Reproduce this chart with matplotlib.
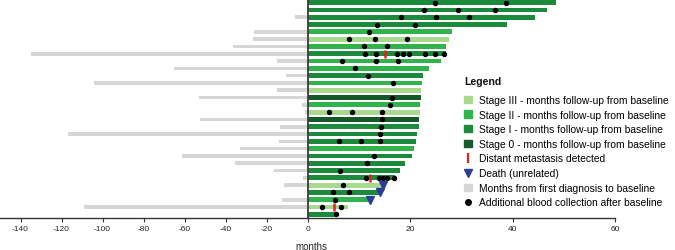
import matplotlib
matplotlib.use('Agg')
import matplotlib.pyplot as plt
import numpy as np
from matplotlib.patches import Patch
from matplotlib.lines import Line2D

plt.rcParams['font.family'] = ['Liberation Sans', 'DejaVu Sans']
plt.rcParams['axes.unicode_minus'] = False

# one entry per patient, top to bottom
stage = ['I', 'I', 'I', 'I', 'II', 'III', 'II', 'I', 'II', 'II',
         'I', 'II', 'III', '0', 'II', 'III', '0', 'I', 'I', 'I',
         'II', 'I', 'I', 'I', 'I', 'III', 'I', 'II', 'III', 'I']
followup = [48.5, 46.7, 44.4, 38.9, 28.2, 27.6, 27.1, 27.0, 26.0, 23.7,
            22.5, 22.3, 22.2, 22.1, 22.0, 22.0, 21.7, 21.7, 21.3, 21.1,
            20.7, 20.4, 19.1, 18.0, 17.1, 14.8, 14.2, 12.0, 7.9, 5.5]
prior = [0, 0, -6, 0, -26.2, -26.8, -36.4, -135, -15, -65,
         -10.6, -104, -14.8, -52.8, -2.5, -1, -52.5, -13.3, -117, -13.7,
         -32.7, -61.1, -35.6, -16.1, -2, -11.4, 0, -12.5, -109, 0]
blood = [[24.8, 38.7], [22.8, 29.3, 36.5], [18.3, 25.0, 31.6], [13.6, 21.0],
         [12.0], [8.1, 13.1, 19.5], [11.1, 15.5],
         [11.2, 13.4, 17.4, 18.7, 19.8, 22.9, 24.8, 26.7],
         [6.8, 13.3, 17.6], [9.3], [11.8], [16.7], [], [16.4], [16.1],
         [4.1, 8.7, 14.6], [14.5], [14.3], [14.1], [6.2, 10.4, 14.1], [],
         [13.0], [11.6], [6.3], [11.5, 14.0, 14.8, 15.5, 16.8], [6.9],
         [5.0, 8.1], [5.4], [2.8, 6.5], [5.5]]
metastasis_row = [7, 24, 28]
metastasis_month = [15.2, 12.2, 5.1]
death_row = [25, 26, 27]
death_month = [14.8, 14.2, 12.2]

stage_colors = {'III': '#a9d98f', 'II': '#2fb34a', 'I': '#1b8a3a', '0': '#15592a'}
gray = '#d6d6d6'
blue = '#2b3d97'


def fwd(x):
    x = np.asarray(x, dtype=float)
    return np.where(x < 0, x * 0.4, x)


def inv(y):
    y = np.asarray(y, dtype=float)
    return np.where(y < 0, y / 0.4, y)


fig = plt.figure(figsize=(6.75, 2.51), dpi=100)
ax = fig.add_axes([0, 0.1275, 615 / 675, 0.8725])
ax.set_xscale('function', functions=(fwd, inv))

rows = np.arange(len(stage))
ax.barh(rows, prior, height=0.5, color=gray, zorder=1)
ax.barh(rows, followup, height=0.65, color=[stage_colors[s] for s in stage], zorder=2)
ax.axvline(0, color='#3a3a3a', lw=1.3, zorder=3)

for r, pts in zip(rows, blood):
    if pts:
        ax.plot(pts, [r] * len(pts), 'o', color='black', ms=2.9, zorder=4)
ax.plot(metastasis_month, metastasis_row, '|', color='#e8201c', ms=6, mew=1.8, zorder=5)
ax.plot(death_month, death_row, 'v', color=blue, ms=6, zorder=5)

ax.set_xlim(-150, 60)
ax.set_ylim(len(stage) - 0.5, -0.5)
ax.set_xticks(range(-140, 61, 20))
ax.set_xticklabels([str(t) for t in range(-140, 61, 20)], fontsize=6, color='#222222')
ax.tick_params(axis='x', length=3, width=0.8, pad=2, color='#333333')
ax.set_yticks([])
for s in ['top', 'right', 'left']:
    ax.spines[s].set_visible(False)
ax.spines['bottom'].set_color('#333333')
ax.spines['bottom'].set_linewidth(1.0)

fig.text(311 / 675, 1 - 247 / 251, 'months', fontsize=7, ha='center', va='center',
         color='#222222')

handles = [
    Patch(color=stage_colors['III'], label='Stage III - months follow-up from baseline'),
    Patch(color=stage_colors['II'], label='Stage II - months follow-up from baseline'),
    Patch(color=stage_colors['I'], label='Stage I - months follow-up from baseline'),
    Patch(color=stage_colors['0'], label='Stage 0 - months follow-up from baseline'),
    Line2D([], [], ls='none', marker='|', color='#e8201c', ms=7, mew=1.6,
           label='Distant metastasis detected'),
    Line2D([], [], ls='none', marker='v', color=blue, ms=6, label='Death (unrelated)'),
    Patch(color=gray, label='Months from first diagnosis to baseline'),
    Line2D([], [], ls='none', marker='o', color='black', ms=4,
           label='Additional blood collection after baseline'),
]
fig.text(464 / 675, 1 - 82 / 251, 'Legend', fontsize=7.6, fontweight='bold',
         ha='left', va='center', color='#111111')
leg = fig.legend(handles=handles, loc='upper left',
                 bbox_to_anchor=(464 / 675, 1 - 96 / 251),
                 frameon=False, fontsize=7.4,
                 handlelength=0.8, handleheight=0.7, handletextpad=0.7,
                 labelspacing=0.45, borderpad=0, borderaxespad=0)

fig.savefig('out.png', dpi=100)
